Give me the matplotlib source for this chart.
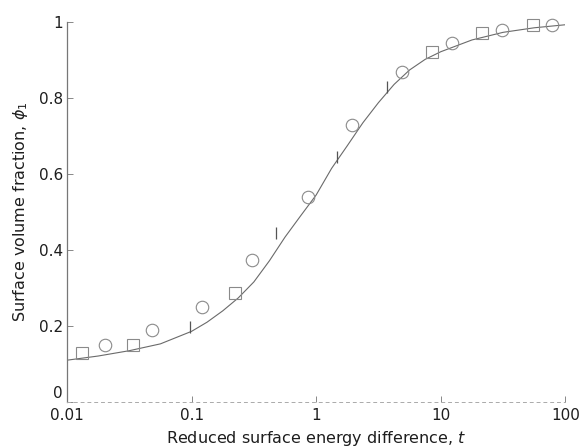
import matplotlib
matplotlib.use("Agg")
import matplotlib.pyplot as plt
import matplotlib.transforms as mtransforms
from matplotlib.ticker import FixedLocator, FixedFormatter, NullLocator

# ---------------------------------------------------------------------------
# Data
# ---------------------------------------------------------------------------
# theory curve
curve_t = [0.01, 0.0178, 0.0316, 0.0562, 0.1, 0.133, 0.178, 0.237, 0.316,
           0.422, 0.562, 0.75, 1.0, 1.33, 1.78, 2.37, 3.16, 4.22, 5.62,
           7.5, 10.0, 17.8, 31.6, 56.2, 100.0]
curve_phi = [0.110, 0.121, 0.135, 0.153, 0.186, 0.210, 0.240, 0.274, 0.316,
             0.372, 0.434, 0.490, 0.545, 0.615, 0.675, 0.735, 0.788, 0.836,
             0.874, 0.902, 0.922, 0.953, 0.973, 0.985, 0.993]

# open circles
circ_t = [0.0202, 0.048, 0.121, 0.306, 0.86, 1.95, 4.9, 12.4, 31.2, 78.7]
circ_phi = [0.150, 0.190, 0.250, 0.374, 0.540, 0.729, 0.868, 0.945, 0.979, 0.992]

# open squares
sq_t = [0.0132, 0.0339, 0.223, 8.55, 21.5, 55.3]
sq_phi = [0.129, 0.150, 0.287, 0.921, 0.971, 0.992]

# small tick-like marks
tick_t = [0.097, 0.48, 1.47, 3.7]
tick_phi = [0.197, 0.445, 0.645, 0.830]

xticks = [0.01, 0.1, 1, 10, 100]
xticklabels = ["0.01", "0.1", "1", "10", "100"]
yticks = [0, 0.2, 0.4, 0.6, 0.8, 1.0]
yticklabels = ["0", "0.2", "0.4", "0.6", "0.8", "1"]

# ---------------------------------------------------------------------------
# Figure
# ---------------------------------------------------------------------------
fig = plt.figure(figsize=(5.85, 4.48), dpi=100)
ax = fig.add_axes([0.1145, 0.1027, 0.852, 0.848])

LINE_C = "#6a6a6a"
MARK_C = "#8a8a8a"
TEXT_C = "#1e1e1e"

ax.plot(curve_t, curve_phi, color=LINE_C, lw=0.8, zorder=2)
ax.plot(circ_t, circ_phi, ls="none", marker="o", ms=9, mfc="none",
        mec=MARK_C, mew=0.8, clip_on=False, zorder=3)
ax.plot(sq_t, sq_phi, ls="none", marker="s", ms=8, mfc="none",
        mec=MARK_C, mew=0.8, clip_on=False, zorder=3)
ax.plot(tick_t, tick_phi, ls="none", marker="|", ms=8,
        mec="#555555", mew=0.9, clip_on=False, zorder=3)

ax.set_xscale("log")
ax.set_xlim(0.01, 100)
ax.set_ylim(0, 1.0)

ax.xaxis.set_major_locator(FixedLocator(xticks))
ax.xaxis.set_major_formatter(FixedFormatter(xticklabels))
ax.xaxis.set_minor_locator(NullLocator())
ax.yaxis.set_major_locator(FixedLocator(yticks))
ax.yaxis.set_major_formatter(FixedFormatter(yticklabels))

for s in ("top", "right"):
    ax.spines[s].set_visible(False)
ax.spines["left"].set_color("#777777")
ax.spines["left"].set_linewidth(0.9)
ax.spines["bottom"].set_color("#aaaaaa")
ax.spines["bottom"].set_linewidth(0.7)
ax.spines["bottom"].set_linestyle((0, (3, 4)))

ax.tick_params(axis="both", direction="in", length=4, width=0.7,
               color="#888888", labelsize=11, labelcolor=TEXT_C)
ax.tick_params(axis="x", pad=4)
ax.tick_params(axis="y", pad=3)

# lift the "0" on the y axis a little so it sits clear of "0.01"
fig.canvas.draw()
zero_lbl = ax.yaxis.get_majorticklabels()[0]
zero_lbl.set_transform(zero_lbl.get_transform()
                       + mtransforms.ScaledTranslation(0, 7 / 72, fig.dpi_scale_trans))

ax.set_xlabel("Reduced surface energy difference, $t$", fontsize=11.5,
              color=TEXT_C, labelpad=5)
ax.set_ylabel(r"Surface volume fraction, $\phi_1$", fontsize=11.5,
              color=TEXT_C, labelpad=6)

fig.savefig("out.png", dpi=100, facecolor="white")
